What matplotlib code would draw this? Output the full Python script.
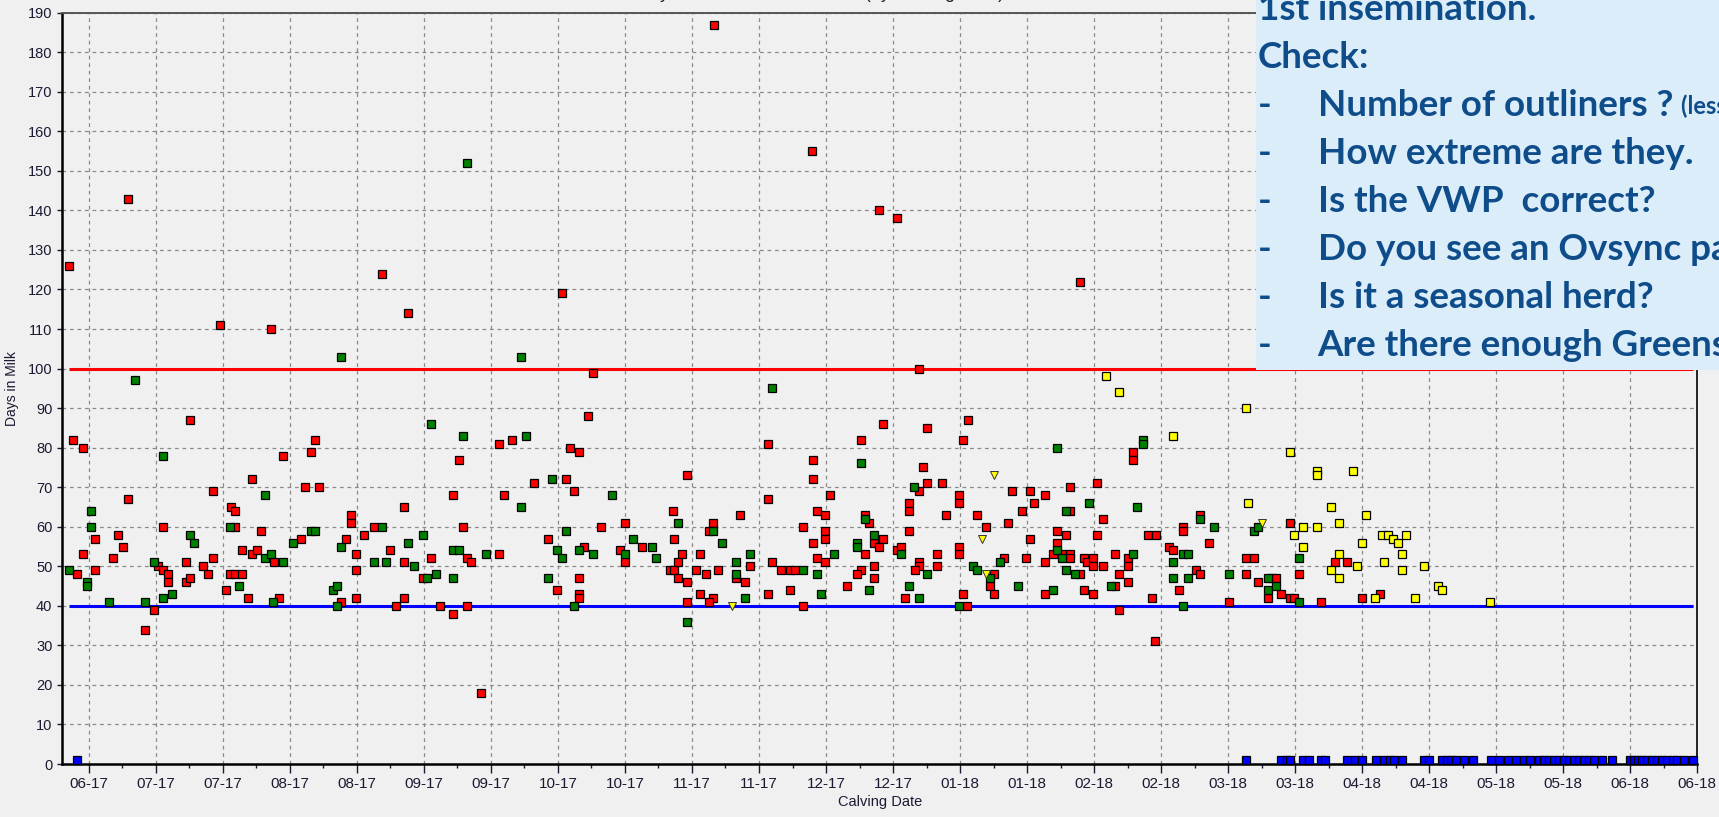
import matplotlib.pyplot as plt
from matplotlib.patches import Rectangle
from matplotlib.text import Annotation
from matplotlib.ticker import MultipleLocator

plt.rcParams['font.family'] = ['Liberation Sans', 'DejaVu Sans']

# x positions are in tick-interval units (one interval = half a month, tick 0 = first "06-17")
tick_labels = ['06-17', '07-17', '07-17', '08-17', '08-17', '09-17', '09-17', '10-17',
               '10-17', '11-17', '11-17', '12-17', '12-17', '01-18', '01-18', '02-18',
               '02-18', '03-18', '03-18', '04-18', '04-18', '05-18', '05-18', '06-18', '06-18']

red_pts = [
    (-0.30, 126), (0.58, 143), (4.37, 124), (7.06, 119),
    (9.33, 187), (10.79, 155), (11.79, 140), (12.06, 138), (14.79, 122),
    (-0.23, 82), (-0.17, 48), (-0.09, 80), (-0.09, 53), (0.10, 57), (0.10, 49), (0.36, 52),
    (0.43, 58), (0.51, 55), (0.58, 67), (1.03, 50), (1.11, 60), (1.11, 49), (1.18, 48),
    (1.18, 46), (1.45, 51), (1.45, 46), (1.51, 47), (1.51, 87), (1.70, 50), (1.78, 48),
    (1.85, 52), (1.85, 69), (1.96, 111), (2.05, 44), (2.18, 60), (2.12, 65), (2.18, 64),
    (2.10, 48), (2.18, 48), (2.29, 48), (2.38, 42), (2.44, 72), (2.29, 54), (2.44, 53),
    (2.51, 54), (2.57, 59), (2.77, 51), (2.72, 110), (2.84, 42), (2.90, 78), (3.17, 57),
    (3.23, 70), (3.32, 79), (3.38, 82), (3.44, 70), (3.77, 41), (3.84, 57), (3.92, 63),
    (3.92, 61), (3.98, 53), (3.98, 49), (3.98, 42), (4.11, 58), (4.25, 60), (4.50, 54),
    (4.71, 65), (4.71, 51), (4.71, 42), (4.77, 114), (4.98, 47), (5.11, 52), (5.44, 68),
    (5.52, 77), (5.59, 60), (5.64, 52), (5.71, 51), (6.12, 53), (6.12, 81), (6.19, 68),
    (6.31, 82), (6.64, 71), (6.85, 57), (6.98, 44), (7.12, 72), (7.18, 80), (7.24, 69),
    (7.31, 79), (7.31, 47), (7.31, 43), (7.31, 42), (7.39, 55), (7.45, 88), (7.52, 99),
    (7.64, 60),
    (0.84, 34), (0.97, 39), (4.58, 40), (5.24, 40), (5.44, 38), (5.64, 40), (5.85, 18),
    (8.00, 61), (7.92, 54), (8.00, 51), (8.26, 55), (8.67, 49), (8.73, 49), (8.79, 47),
    (8.73, 57), (8.72, 64), (8.79, 51), (8.85, 53), (8.93, 46), (8.93, 73), (9.06, 49),
    (9.12, 53), (9.21, 48), (9.12, 43), (9.32, 61), (9.26, 59), (9.39, 49), (9.32, 42),
    (8.93, 41), (9.72, 63), (9.66, 47), (9.87, 50), (9.79, 46), (10.14, 81), (10.14, 67),
    (10.20, 51), (10.14, 43), (10.33, 49), (10.46, 49), (10.53, 49), (10.46, 44), (10.66, 60),
    (10.80, 77), (10.80, 72), (10.80, 56), (10.86, 64), (10.86, 52), (10.98, 63), (10.98, 59),
    (10.98, 57), (10.98, 51), (11.06, 68), (11.32, 45), (11.52, 82), (11.58, 63), (11.64, 61),
    (11.85, 57), (11.72, 56), (11.79, 55), (11.58, 53), (11.52, 49), (11.46, 48), (11.72, 50),
    (11.72, 47), (11.85, 86), (12.06, 54), (12.12, 55), (12.24, 66), (12.24, 64), (12.24, 59),
    (12.39, 69), (12.39, 100), (12.45, 75), (12.51, 85), (12.51, 71), (12.73, 71), (12.39, 51),
    (12.39, 50), (12.33, 49), (12.66, 53), (12.66, 50), (12.79, 63), (12.18, 42), (12.99, 68),
    (12.99, 66), (13.05, 82), (13.12, 87), (12.99, 55), (12.99, 53), (13.05, 43), (13.26, 63),
    (13.39, 60), (13.51, 48), (13.45, 45), (13.51, 43), (13.65, 52), (13.71, 61), (13.78, 69),
    (13.92, 64), (14.04, 69), (14.11, 66), (14.26, 68), (14.04, 57), (13.98, 52), (14.26, 51),
    (14.26, 43), (14.44, 59), (14.58, 58), (14.44, 56), (14.38, 53), (14.52, 53), (14.64, 53),
    (14.64, 52), (14.79, 48), (14.64, 70), (14.64, 64), (15.04, 71), (15.13, 62), (15.04, 58),
    (14.85, 52), (14.90, 51), (14.98, 52), (14.98, 50), (15.13, 50), (14.85, 44), (14.98, 43),
    (15.31, 53), (15.37, 48), (15.31, 45), (15.51, 52), (15.51, 50), (15.51, 46), (15.58, 79),
    (15.58, 77), (15.80, 58), (15.92, 58), (15.86, 42), (16.12, 55), (16.18, 54), (16.33, 60),
    (16.33, 59), (16.52, 49), (16.58, 48), (16.27, 44), (16.58, 63), (16.72, 56), (17.27, 52),
    (17.27, 48), (17.02, 41),
    (17.39, 52), (17.93, 61), (18.59, 51), (18.78, 51), (18.05, 48), (17.45, 46), (17.66, 47),
    (17.72, 47), (17.79, 43), (17.93, 42), (17.99, 42), (17.60, 42), (18.39, 41), (18.99, 42),
    (19.26, 43),
    (9.26, 41), (10.65, 40), (13.11, 40), (15.37, 39), (15.91, 31),
]

green_pts = [
    (5.64, 152),
    (-0.30, 49), (-0.03, 46), (-0.02, 45), (0.03, 64), (0.03, 60), (0.30, 41), (0.69, 97),
    (0.84, 41), (0.97, 51), (1.11, 78), (1.11, 42), (1.24, 43), (1.51, 58), (1.57, 56),
    (2.10, 60), (2.24, 45), (2.63, 68), (2.63, 52), (2.72, 53), (2.75, 41), (2.90, 51),
    (3.05, 56), (3.32, 59), (3.38, 59), (3.64, 44), (3.70, 45), (3.77, 103), (3.77, 55),
    (4.37, 60), (4.25, 51), (4.44, 51), (4.77, 56), (4.85, 50), (4.98, 58), (5.04, 47),
    (5.11, 86), (5.18, 48), (5.44, 47), (5.44, 54), (5.52, 54), (5.59, 83), (5.92, 53),
    (6.45, 65), (6.45, 103), (6.52, 83), (6.85, 47), (6.98, 54), (6.91, 72), (7.06, 52),
    (7.12, 59), (7.31, 54), (7.52, 53),
    (3.70, 40), (7.24, 40),
    (7.80, 68), (8.00, 53), (8.12, 57), (8.40, 55), (8.46, 52), (8.79, 61), (9.32, 59),
    (9.45, 56), (9.66, 51), (9.66, 48), (9.87, 53), (9.79, 42), (10.20, 95), (10.66, 49),
    (10.86, 48), (10.92, 43), (11.12, 53), (11.52, 76), (11.58, 62), (11.72, 58), (11.46, 56),
    (11.46, 55), (11.64, 44), (12.12, 53), (12.32, 70), (12.51, 48), (12.24, 45), (12.39, 42),
    (13.19, 50), (13.26, 49), (13.45, 47), (13.59, 51), (13.86, 45), (14.38, 44), (14.44, 54),
    (14.52, 52), (14.58, 49), (14.71, 48), (14.58, 64), (14.44, 80), (14.92, 66), (15.25, 45),
    (15.58, 53), (15.64, 65), (15.73, 82), (15.73, 81), (16.33, 53), (16.40, 53), (16.18, 51),
    (16.18, 47), (16.40, 47), (16.58, 62), (16.79, 60), (17.02, 48),
    (8.93, 36), (12.99, 40), (16.33, 40),
    (17.39, 59), (17.45, 60), (18.05, 52), (17.60, 47), (17.60, 44), (17.72, 45), (18.05, 41),
]

yellow_pts = [
    (15.18, 98), (15.37, 94), (16.18, 83), (17.27, 90), (17.30, 66), (17.93, 79), (18.32, 74),
    (18.32, 73), (18.86, 74), (18.53, 65), (19.05, 63), (18.12, 60), (18.32, 60), (18.66, 61),
    (17.99, 58), (18.12, 55), (18.99, 56), (19.30, 58), (19.38, 58), (19.46, 57), (19.53, 56),
    (19.65, 58), (19.59, 53), (18.66, 53), (19.32, 51), (18.92, 50), (19.92, 50), (18.53, 49),
    (19.59, 49), (18.66, 47), (19.19, 42), (20.13, 45), (20.19, 44), (19.79, 42), (20.91, 41),
]

triangle_pts = [(13.51, 73), (13.32, 57), (13.39, 48), (9.59, 40), (17.51, 61)]

# open cows (not yet inseminated) drawn at the bottom
blue_x = [-0.17, 17.27, 17.79, 17.88, 17.93, 18.12, 18.20, 18.39, 18.45, 18.78, 18.90, 18.99,
          19.20, 19.32, 19.42, 19.47, 19.59, 19.92, 19.99, 20.19, 20.27, 20.33, 20.40, 20.52,
          20.65, 20.92, 21.04, 21.17, 21.29, 21.42, 21.51, 21.64, 21.71, 21.79, 21.86, 21.94,
          22.01, 22.08, 22.16, 22.23, 22.31, 22.38, 22.46, 22.58, 22.73, 22.99, 23.05, 23.11,
          23.18, 23.25, 23.33, 23.40, 23.48, 23.55, 23.63, 23.70, 23.80, 23.94]
blue_y = [1] * len(blue_x)

vwp_limit = 40
late_limit = 100

W, H = 1719, 817
fig = plt.figure(figsize=(W / 100, H / 100), dpi=100, facecolor='#f0f0f0')
ax = fig.add_axes([62.3 / W, 1 - 764 / H, (1697.3 - 62.3) / W, (764 - 12.7) / H])
ax.set_facecolor('#f0f0f0')

ax.set_xlim(-0.395, 24)
ax.set_ylim(0, 190)
ax.set_xticks(range(len(tick_labels)))
ax.set_xticklabels(tick_labels)
ax.xaxis.set_minor_locator(MultipleLocator(0.5))
ax.set_yticks(range(0, 191, 10))
ax.grid(True, which='major', color='#8a8a8a', linestyle=(0, (3, 3)), linewidth=0.9)
ax.set_axisbelow(True)

for side in ['left', 'bottom']:
    ax.spines[side].set_linewidth(1.8)
    ax.spines[side].set_color('black')
ax.spines['right'].set_linewidth(1.2)
ax.spines['top'].set_linewidth(1.4)
ax.spines['top'].set_color('#555555')

ax.tick_params(axis='x', which='major', length=6.5, width=1, colors='#1a1a33', labelsize=11, pad=3)
ax.tick_params(axis='x', which='minor', length=3, width=1, color='#1a1a33')
ax.tick_params(axis='y', which='major', length=3.6, width=1, colors='#1a1a33', labelsize=10.5, pad=3.5)

ax.set_ylabel('Days in Milk', fontsize=10, color='#1a1a33', labelpad=6)
ax.set_xlabel('Calving Date', fontsize=10.5, color='#1a1a33', labelpad=3)

all_x = [p[0] for p in red_pts + green_pts + yellow_pts] + blue_x
ax.hlines(late_limit, min(all_x), max(all_x), color='#ff0000', linewidth=2.2, zorder=2)
ax.hlines(vwp_limit, min(all_x), max(all_x), color='#0000ff', linewidth=2.2, zorder=2)

sq = dict(marker='s', linestyle='none', markersize=6.2, markeredgecolor='black',
          markeredgewidth=0.9, zorder=3)
ax.plot([p[0] for p in red_pts], [p[1] for p in red_pts], markerfacecolor='#ff0000', **sq)
ax.plot([p[0] for p in green_pts], [p[1] for p in green_pts], markerfacecolor='#008000', **sq)
ax.plot([p[0] for p in yellow_pts], [p[1] for p in yellow_pts], markerfacecolor='#ffff00', **sq)
ax.plot([p[0] for p in triangle_pts], [p[1] for p in triangle_pts], marker='v', linestyle='none',
        markersize=6, markerfacecolor='#ffff00', markeredgecolor='#333333', markeredgewidth=0.7,
        zorder=3)
ax.plot(blue_x, blue_y, markerfacecolor='#0000ff', clip_on=False, **sq)

# chart title, mostly cut off by the top of the picture
fig.text(637 / W, 1 + 1.5 / H, 'Days in Milk at First Service (by Calving Date)',
         ha='left', va='baseline', fontsize=13, color='#202020')

# callout box on the right
fig.add_artist(Rectangle((1255.6 / W, 1 - 370 / H), 1 - 1255.6 / W, 370 / H,
                         transform=fig.transFigure, facecolor='#daedf9', edgecolor='none',
                         zorder=5))
txt_color = '#0f4c8a'
box_font = dict(family=['Lato', 'DejaVu Sans'], fontweight='bold', fontsize=26.5,
                color=txt_color, va='baseline', zorder=6)
fig.text(1258 / W, 1 - 20.5 / H, '1st insemination.', **box_font)
fig.text(1258 / W, 1 - 68 / H, 'Check:', **box_font)
items = ['Number of outliners ?', 'How extreme are they.', 'Is the VWP  correct?',
         'Do you see an Ovsync pattern?', 'Is it a seasonal herd?', 'Are there enough Greens?']
for i, item in enumerate(items):
    yb = 1 - (116 + 48 * i) / H
    fig.text(1258 / W, yb, '-', **box_font)
    t = fig.text(1317.5 / W, yb, item, **box_font)
    if i == 0:
        note = Annotation('(less is better)', xy=(1, 0), xycoords=t, xytext=(6, 5.5),
                          textcoords='offset points', fontsize=17, fontweight='bold',
                          family=['Lato', 'DejaVu Sans'], color=txt_color, va='baseline',
                          annotation_clip=False, zorder=6)
        fig.add_artist(note)

fig.savefig('out.png', dpi=100, facecolor=fig.get_facecolor())
